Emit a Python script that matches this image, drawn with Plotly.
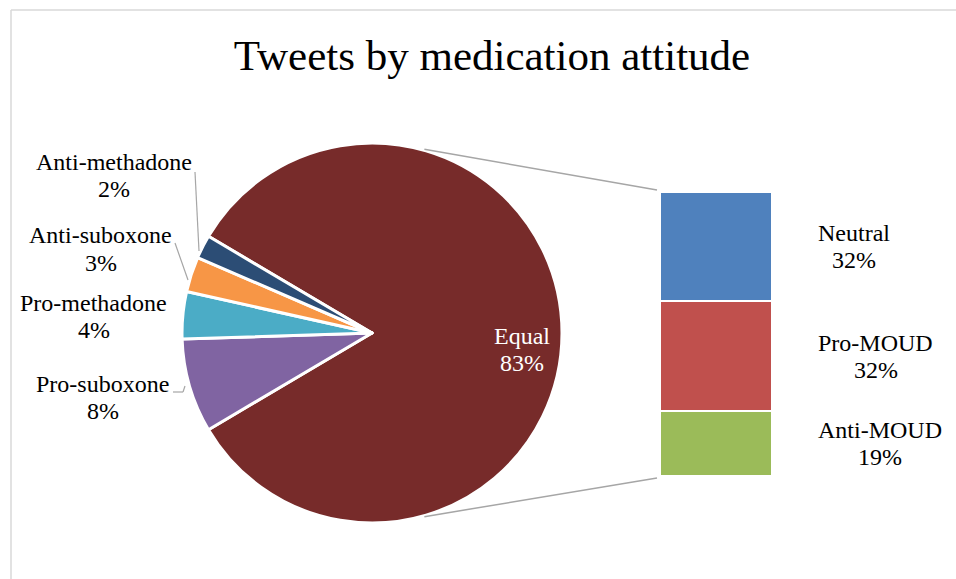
import math
import plotly.graph_objects as go

# ---------------- data ----------------
pie_labels = ["Equal", "Pro-suboxone", "Pro-methadone", "Anti-suboxone", "Anti-methadone"]
pie_values = [83, 8, 4, 3, 2]
bar_labels = ["Anti-MOUD", "Pro-MOUD", "Neutral"]   # bottom -> top
bar_values = [19, 32, 32]
title_text = "Tweets by medication attitude"

# ---------------- style ----------------
OFF = 0  # page body margin removed via post_script
W, H = 956, 579
FONT = "Times New Roman, Liberation Serif, serif"
LABEL_SIZE = 24
HALF_GAP = 13.5  # half the distance between the two lines of a label
pie_colors = ["#772B2A", "#8064A2", "#4BACC6", "#F79646", "#2C4D75"]
bar_colors = ["#9BBB59", "#C0504D", "#4F81BD"]
LINE_GRAY = "#A6A6A6"

PIE_CX, PIE_CY, PIE_R = 372, 333, 190          # screen pixels
BAR_X0, BAR_X1, BAR_Y0, BAR_Y1 = 660, 772, 192, 476  # screen pixels (top, bottom)
CONNECT_ANGLE = 16  # deg from vertical where connectors leave the pie


def px(x, y):
    return (x - OFF) / W, 1 - (y - OFF) / H


total = sum(pie_values)
rotation = 90 - pie_values[0] / total * 360 / 2

fig = go.Figure()

dx0, dy1 = px(PIE_CX - PIE_R, PIE_CY - PIE_R)
dx1, dy0 = px(PIE_CX + PIE_R, PIE_CY + PIE_R)
fig.add_trace(go.Pie(
    labels=pie_labels, values=pie_values, sort=False, direction="clockwise",
    rotation=rotation, textinfo="none", hoverinfo="label+percent",
    marker=dict(colors=pie_colors, line=dict(color="white", width=3)),
    domain=dict(x=[dx0, dx1], y=[dy0, dy1]),
    showlegend=False,
))

for lab, val, col in zip(bar_labels, bar_values, bar_colors):
    fig.add_trace(go.Bar(
        x=[0], y=[val], name=lab, marker=dict(color=col, line=dict(color="white", width=2)),
        xaxis="x", yaxis="y", showlegend=False, width=1,
    ))

annotations = []


def two_line(text1, text2, x, y, xref, yref, color="black"):
    for t, sh in ((text1, HALF_GAP), (text2, -HALF_GAP)):
        annotations.append(dict(x=x, y=y, xref=xref, yref=yref, yshift=sh, text=t,
                                showarrow=False, xanchor="center", yanchor="middle",
                                font=dict(family=FONT, size=LABEL_SIZE, color=color)))


# bar labels: text block centres (screen px)
bar_label_cx = {"Neutral": 854, "Pro-MOUD": 875.5, "Anti-MOUD": 880}
cum = 0
for lab, val in zip(bar_labels, bar_values):
    mid = cum + val / 2
    cum += val
    two_line(lab, f"{val}%", px(bar_label_cx[lab], 0)[0], mid, "paper", "y")

# pie labels (screen px centres)
label_pos = {
    "Anti-methadone": (114, 175.5),
    "Anti-suboxone": (100.5, 249),
    "Pro-methadone": (93.5, 316.5),
    "Pro-suboxone": (102.5, 397),
}
for lab, val in zip(pie_labels, pie_values):
    if lab == "Equal":
        ex, ey = px(PIE_CX + 0.79 * PIE_R, PIE_CY + 16)
        two_line(lab, f"{val}%", ex, ey, "paper", "paper", color="white")
    else:
        lx, ly = px(*label_pos[lab])
        two_line(lab, f"{val}%", lx, ly, "paper", "paper")

shapes = []
# frame
fx0, fy0 = px(11, 10)
shapes.append(dict(type="line", xref="paper", yref="paper", x0=fx0, y0=fy0, x1=1.2, y1=fy0,
                   line=dict(color="#D9D9D9", width=1.5)))
shapes.append(dict(type="line", xref="paper", yref="paper", x0=fx0, y0=-0.1, x1=fx0, y1=fy0,
                   line=dict(color="#D9D9D9", width=1.5)))

# connectors pie -> bar
a = math.radians(CONNECT_ANGLE)
tx, ty = PIE_CX + PIE_R * math.sin(a), PIE_CY - PIE_R * math.cos(a)
bx, by = PIE_CX + PIE_R * math.sin(a), PIE_CY + PIE_R * math.cos(a)
for (sx, sy), (ex, ey) in [((tx, ty - 1), (BAR_X0 - 3, BAR_Y0 - 2)), ((bx, by + 1), (BAR_X0 - 3, BAR_Y1 + 2))]:
    x0, y0 = px(sx, sy)
    x1, y1 = px(ex, ey)
    shapes.append(dict(type="line", xref="paper", yref="paper", x0=x0, y0=y0, x1=x1, y1=y1,
                       line=dict(color=LINE_GRAY, width=1.5)))

# leader lines
for pts in [[(195, 172), (199, 251)], [(175, 243), (188, 280)], [(173, 392), (183, 392), (185, 386)]]:
    for (sx, sy), (ex, ey) in zip(pts[:-1], pts[1:]):
        x0, y0 = px(sx, sy)
        x1, y1 = px(ex, ey)
        shapes.append(dict(type="line", xref="paper", yref="paper", x0=x0, y0=y0, x1=x1, y1=y1,
                           line=dict(color=LINE_GRAY, width=1.2)))

bxd0, byd1 = px(BAR_X0, BAR_Y0)
bxd1, byd0 = px(BAR_X1, BAR_Y1)
_, title_y = px(0, 55)
fig.update_layout(
    width=W, height=H, margin=dict(l=0, r=0, t=0, b=0),
    paper_bgcolor="white", plot_bgcolor="white",
    barmode="stack", bargap=0,
    title=dict(text=title_text, x=px(492, 0)[0], xanchor="center", y=title_y, yanchor="middle",
               font=dict(family=FONT, size=43, color="black")),
    xaxis=dict(domain=[bxd0, bxd1], range=[-0.5, 0.5], visible=False, fixedrange=True),
    yaxis=dict(domain=[byd0, byd1], range=[0, sum(bar_values)], visible=False, fixedrange=True),
    annotations=annotations, shapes=shapes,
)

fig.write_html(
    "out.html",
    config={"displayModeBar": False},
    post_script="document.body.style.margin='0';document.body.style.overflow='hidden';"
                "document.documentElement.style.overflow='hidden';",
)
